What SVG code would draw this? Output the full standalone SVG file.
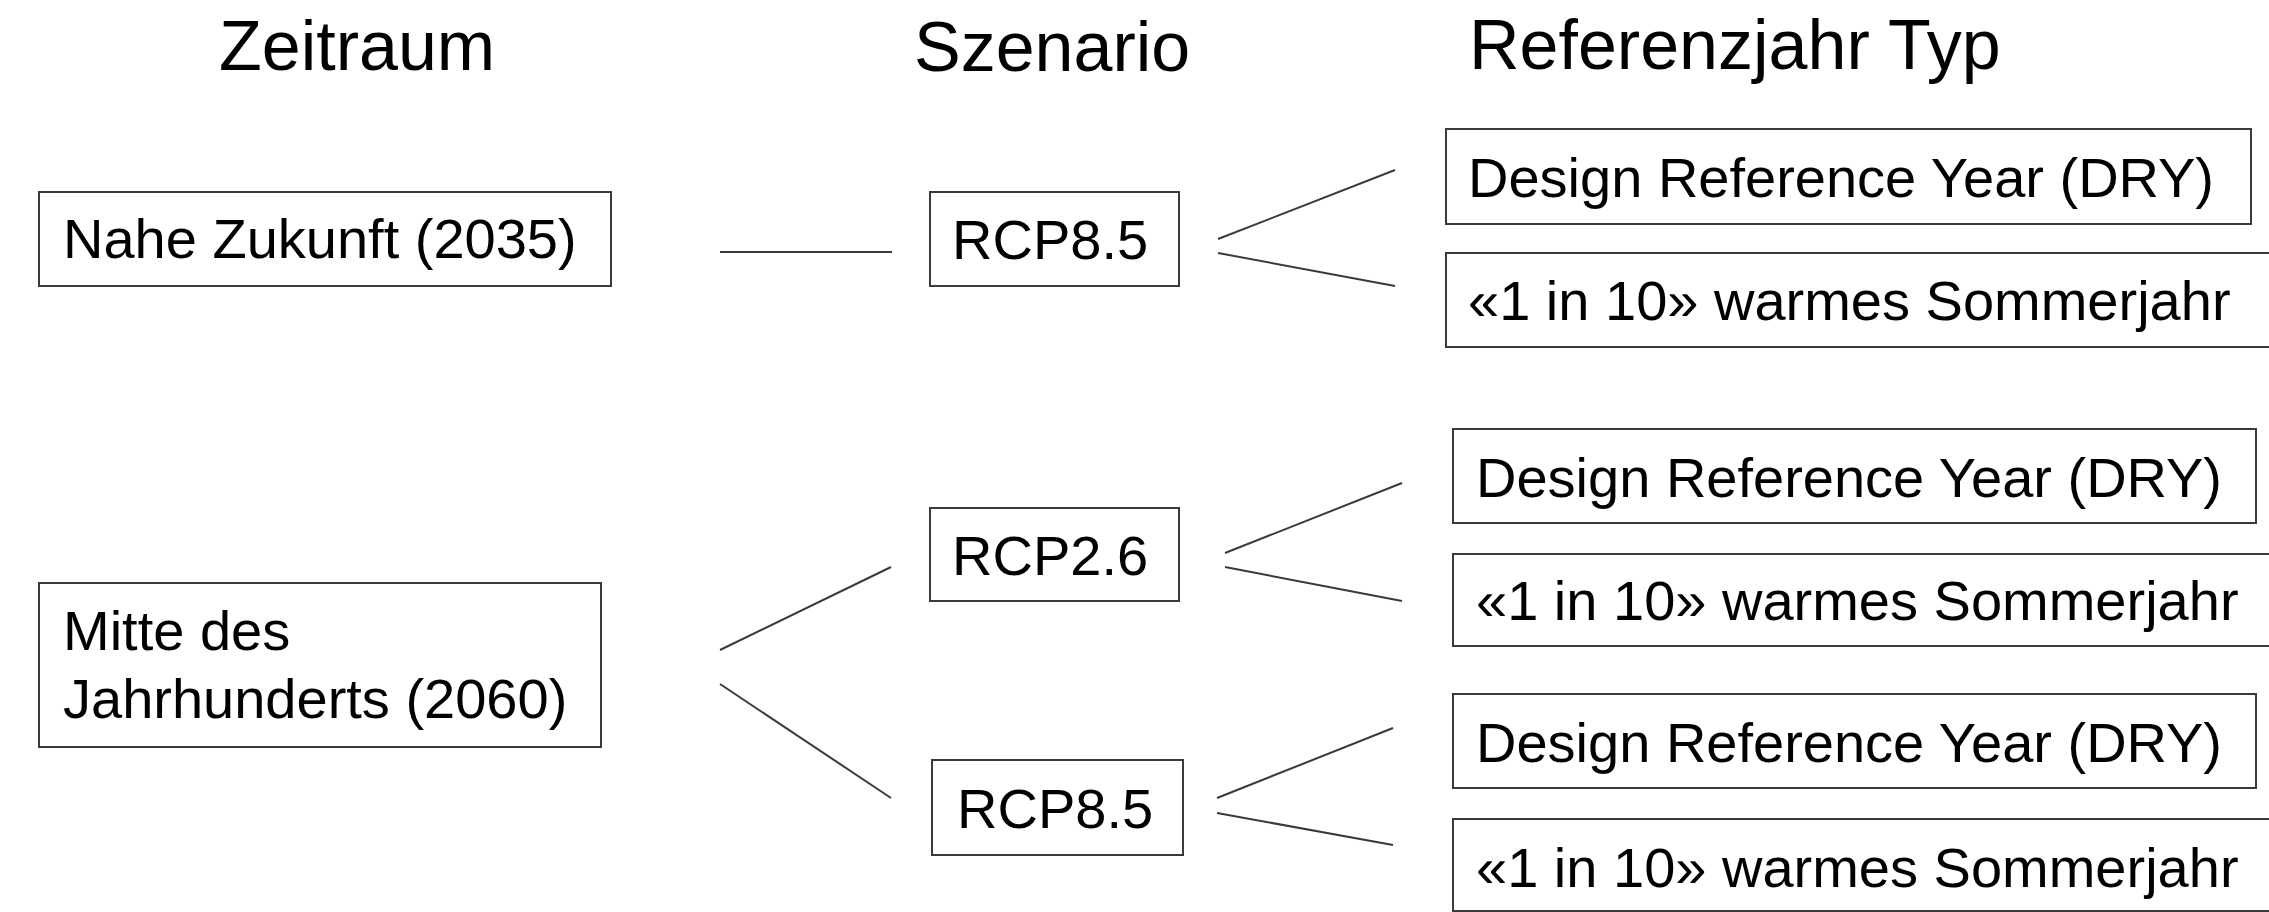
<svg xmlns="http://www.w3.org/2000/svg" width="2269" height="912" viewBox="0 0 2269 912">
  <style>
    .bg { fill: #ffffff; }
    .box { fill: #ffffff; stroke: #3a3a3a; stroke-width: 2; }
    .edge { stroke: #3a3a3a; stroke-width: 2; fill: none; }
    .head { font-family: "Liberation Sans", Arial, sans-serif; font-size: 70px; fill: #000000; }
    .label { font-family: "Liberation Sans", Arial, sans-serif; font-size: 56px; fill: #000000; }
  </style>
  <rect class="bg" x="0" y="0" width="2269" height="912"/>

  <!-- column headings -->
  <g id="headings">
    <text class="head" x="219" y="70">Zeitraum</text>
    <text class="head" x="914" y="71">Szenario</text>
    <text class="head" x="1469" y="69">Referenzjahr Typ</text>
  </g>

  <!-- connectors -->
  <g id="connectors">
    <line class="edge" x1="720" y1="252" x2="892" y2="252"/>
    <line class="edge" x1="1218" y1="239" x2="1395" y2="170"/>
    <line class="edge" x1="1218" y1="253" x2="1395" y2="286"/>
    <line class="edge" x1="720" y1="650" x2="891" y2="567"/>
    <line class="edge" x1="720" y1="684" x2="891" y2="798"/>
    <line class="edge" x1="1225" y1="553" x2="1402" y2="483"/>
    <line class="edge" x1="1225" y1="567" x2="1402" y2="601"/>
    <line class="edge" x1="1217" y1="798" x2="1393" y2="728"/>
    <line class="edge" x1="1217" y1="813" x2="1393" y2="845"/>
  </g>

  <!-- time periods -->
  <g id="period-2035">
    <rect class="box" x="39" y="192" width="572" height="94"/>
    <text class="label" x="63" y="258">Nahe Zukunft (2035)</text>
  </g>
  <g id="period-2060">
    <rect class="box" x="39" y="583" width="562" height="164"/>
    <text class="label" x="63" y="650">Mitte des</text>
    <text class="label" x="63" y="718">Jahrhunderts (2060)</text>
  </g>

  <!-- scenarios -->
  <g id="scenario-2035-rcp85">
    <rect class="box" x="930" y="192" width="249" height="94"/>
    <text class="label" x="952" y="259">RCP8.5</text>
  </g>
  <g id="scenario-2060-rcp26">
    <rect class="box" x="930" y="508" width="249" height="93"/>
    <text class="label" x="952" y="575">RCP2.6</text>
  </g>
  <g id="scenario-2060-rcp85">
    <rect class="box" x="932" y="760" width="251" height="95"/>
    <text class="label" x="957" y="828">RCP8.5</text>
  </g>

  <!-- reference year types -->
  <g id="year-2035-rcp85-dry">
    <rect class="box" x="1446" y="129" width="805" height="95"/>
    <text class="label" x="1468" y="197">Design Reference Year (DRY)</text>
  </g>
  <g id="year-2035-rcp85-warm">
    <rect class="box" x="1446" y="253" width="840" height="94"/>
    <text class="label" x="1468" y="320">«1 in 10» warmes Sommerjahr</text>
  </g>
  <g id="year-2060-rcp26-dry">
    <rect class="box" x="1453" y="429" width="803" height="94"/>
    <text class="label" x="1476" y="497">Design Reference Year (DRY)</text>
  </g>
  <g id="year-2060-rcp26-warm">
    <rect class="box" x="1453" y="554" width="840" height="92"/>
    <text class="label" x="1476" y="620">«1 in 10» warmes Sommerjahr</text>
  </g>
  <g id="year-2060-rcp85-dry">
    <rect class="box" x="1453" y="694" width="803" height="94"/>
    <text class="label" x="1476" y="762">Design Reference Year (DRY)</text>
  </g>
  <g id="year-2060-rcp85-warm">
    <rect class="box" x="1453" y="819" width="840" height="92"/>
    <text class="label" x="1476" y="887">«1 in 10» warmes Sommerjahr</text>
  </g>
</svg>
